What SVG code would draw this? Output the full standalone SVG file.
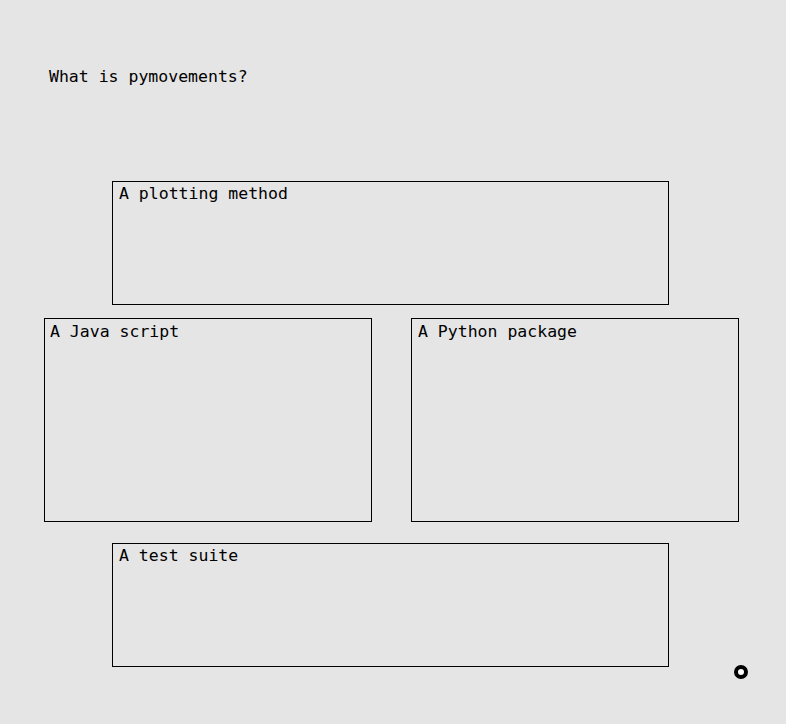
<svg xmlns="http://www.w3.org/2000/svg" width="786" height="724" viewBox="0 0 786 724">
<style>
.t{font-family:"DejaVu Sans Mono","Liberation Mono",monospace;font-size:16.5px;fill:#000}
.b{fill:none;stroke:#000;stroke-width:1}
</style>
<rect width="786" height="724" fill="#e5e5e5"/>
<text class="t" x="49" y="82">What is pymovements?</text>
<g id="plotting"><rect class="b" x="112.5" y="181.5" width="556" height="123"/><text class="t" x="119" y="199">A plotting method</text></g>
<g id="java"><rect class="b" x="44.5" y="318.5" width="327" height="203"/><text class="t" x="50" y="337">A Java script</text></g>
<g id="python"><rect class="b" x="411.5" y="318.5" width="327" height="203"/><text class="t" x="418" y="337">A Python package</text></g>
<g id="test"><rect class="b" x="112.5" y="543.5" width="556" height="123"/><text class="t" x="119" y="561">A test suite</text></g>
<g id="connectors"></g>
<circle cx="741" cy="672" r="5" fill="#fff" stroke="#000" stroke-width="4"/>
</svg>
